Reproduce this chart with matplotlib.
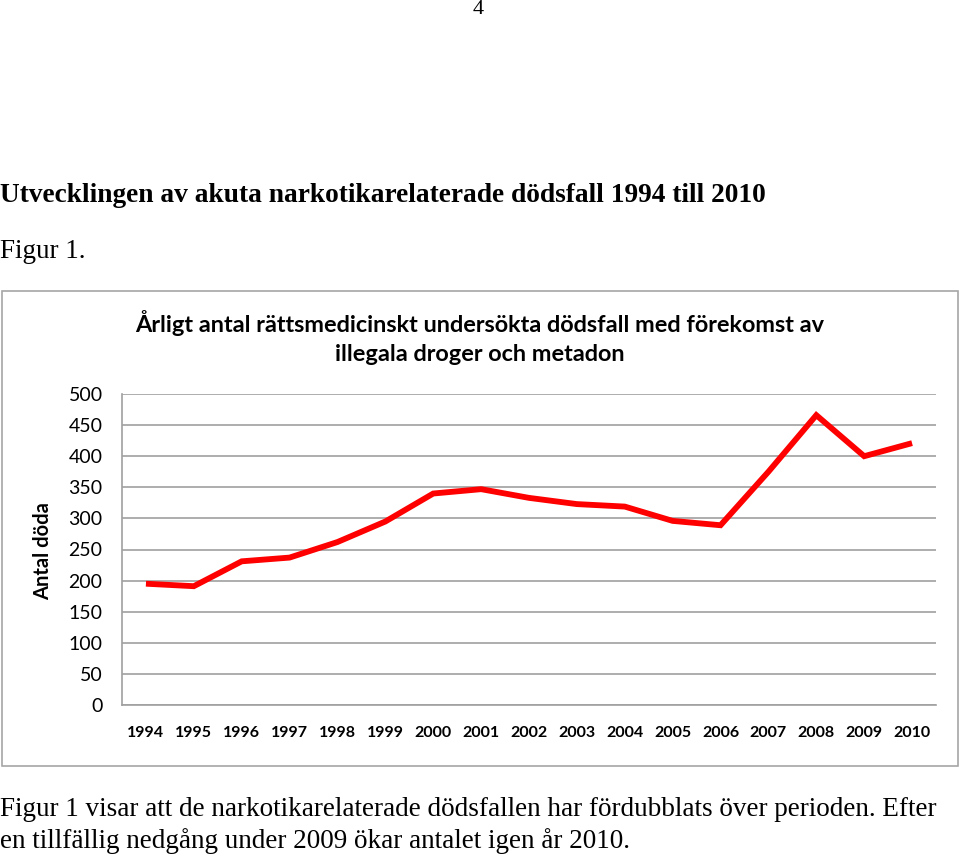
import matplotlib
matplotlib.use("Agg")
import matplotlib.pyplot as plt
from matplotlib.patches import Rectangle

years = [1994, 1995, 1996, 1997, 1998, 1999, 2000, 2001, 2002, 2003, 2004, 2005, 2006, 2007, 2008, 2009, 2010]
deaths = [195, 191, 231, 237, 262, 295, 340, 347, 333, 323, 319, 296, 289, 375, 466, 400, 421]
yticks = [0, 50, 100, 150, 200, 250, 300, 350, 400, 450, 500]

W, H = 960, 859
fig = plt.figure(figsize=(W / 100, H / 100), dpi=100)
fig.patch.set_facecolor("white")

def fx(px):
    return px / W

def fy(py):
    return 1 - py / H

serif = ["Liberation Serif", "DejaVu Serif"]
sans = ["Lato", "DejaVu Sans"]

fig.text(fx(478), fy(10), "4", ha="center", va="center", fontsize=16, family=serif)
fig.text(fx(0), fy(195), "Utvecklingen av akuta narkotikarelaterade dödsfall 1994 till 2010",
         ha="left", va="center", fontsize=19.7, fontweight="bold", family=serif)
fig.text(fx(0), fy(251), "Figur 1.", ha="left", va="center", fontsize=19.5, family=serif)
fig.text(fx(0), fy(809), "Figur 1 visar att de narkotikarelaterade dödsfallen har fördubblats över perioden. Efter",
         ha="left", va="center", fontsize=19.5, family=serif)
fig.text(fx(0), fy(841), "en tillfällig nedgång under 2009 ökar antalet igen år 2010.",
         ha="left", va="center", fontsize=19.5, family=serif)

# chart border
fig.patches.append(Rectangle((fx(2), fy(766)), fx(956), (766 - 291) / H, transform=fig.transFigure,
                             fill=False, edgecolor="#a6a6a6", linewidth=1.2))

fig.text(fx(480), fy(323), "Årligt antal rättsmedicinskt undersökta dödsfall med förekomst av",
         ha="center", va="center", fontsize=16.9, fontweight="bold", family=sans)
fig.text(fx(480), fy(354), "illegala droger och metadon",
         ha="center", va="center", fontsize=16.9, fontweight="bold", family=sans)

ax = fig.add_axes([fx(122), fy(705), fx(936 - 122), (705 - 394) / H])
ax.plot(years, deaths, color="#ff0000", linewidth=4.2, solid_joinstyle="miter", solid_capstyle="butt")
ax.set_xlim(1993.5, 2010.5)
ax.set_ylim(0, 500)
ax.set_yticks(yticks)
ax.set_xticks(years)
ax.set_xticklabels([str(y) for y in years], fontsize=11.5, fontweight="bold", family=sans)
ax.set_yticklabels([str(v) for v in yticks], fontsize=14, family=sans)
ax.tick_params(axis="both", length=0, colors="black")
ax.tick_params(axis="y", pad=14)
ax.tick_params(axis="x", pad=15)
ax.grid(axis="y", color="#a0a0a0", linewidth=1.2)
ax.set_axisbelow(True)
for s in ["top", "right"]:
    ax.spines[s].set_visible(False)
for s in ["left", "bottom"]:
    ax.spines[s].set_color("#a0a0a0")
    ax.spines[s].set_linewidth(1.2)
fig.text(fx(43), fy(551), "Antal döda", rotation=90, ha="center", va="center",
         fontsize=14.5, fontweight="bold", family=sans)

fig.savefig("out.png", dpi=100)
